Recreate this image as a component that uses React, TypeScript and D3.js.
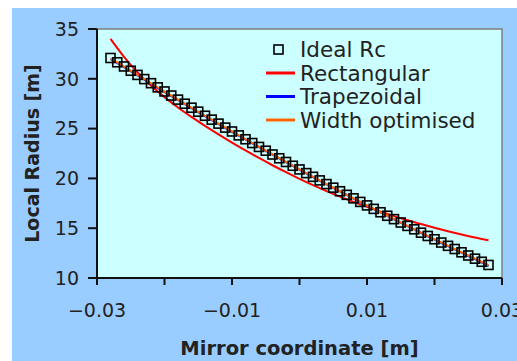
import React from "react";
import * as d3 from "d3";

const WIDTH = 517;
const HEIGHT = 361;

// mirror coordinate [m], step 0.001 from -0.028 to 0.028
const idealX = [
  -0.028, -0.027, -0.026, -0.025, -0.024, -0.023, -0.022, -0.021, -0.02, -0.019,
  -0.018, -0.017, -0.016, -0.015, -0.014, -0.013, -0.012, -0.011, -0.01, -0.009,
  -0.008, -0.007, -0.006, -0.005, -0.004, -0.003, -0.002, -0.001, 0, 0.001,
  0.002, 0.003, 0.004, 0.005, 0.006, 0.007, 0.008, 0.009, 0.01, 0.011,
  0.012, 0.013, 0.014, 0.015, 0.016, 0.017, 0.018, 0.019, 0.02, 0.021,
  0.022, 0.023, 0.024, 0.025, 0.026, 0.027, 0.028,
];
const idealRc = [
  32.09, 31.66, 31.24, 30.81, 30.39, 29.97, 29.56, 29.14, 28.73, 28.32,
  27.91, 27.5, 27.1, 26.7, 26.29, 25.9, 25.5, 25.1, 24.71, 24.32,
  23.93, 23.55, 23.16, 22.78, 22.4, 22.02, 21.65, 21.27, 20.9, 20.53,
  20.16, 19.8, 19.43, 19.07, 18.71, 18.35, 18.0, 17.64, 17.29, 16.94,
  16.6, 16.25, 15.91, 15.57, 15.23, 14.89, 14.55, 14.22, 13.89, 13.56,
  13.23, 12.91, 12.58, 12.26, 11.94, 11.63, 11.31,
];

const profileX = [
  -0.028, -0.026, -0.024, -0.022, -0.02, -0.018, -0.016, -0.014, -0.012, -0.01,
  -0.008, -0.006, -0.004, -0.002, 0, 0.002, 0.004, 0.006, 0.008, 0.01,
  0.012, 0.014, 0.016, 0.018, 0.02, 0.022, 0.024, 0.026, 0.028,
];
const rectangular = [
  34.0, 32.2, 30.64, 29.32, 28.16, 27.12, 26.17, 25.27, 24.42, 23.6,
  22.81, 22.05, 21.32, 20.62, 19.95, 19.32, 18.73, 18.17, 17.64, 17.14,
  16.66, 16.21, 15.8, 15.42, 15.05, 14.7, 14.37, 14.06, 13.78,
];
const trapezoidal = [
  31.98, 31.17, 30.34, 29.5, 28.68, 27.87, 27.06, 26.26, 25.47, 24.68,
  23.91, 23.14, 22.38, 21.63, 20.88, 20.14, 19.41, 18.69, 17.98, 17.27,
  16.58, 15.89, 15.2, 14.53, 13.86, 13.2, 12.54, 11.89, 11.2,
];
const widthOptimised = [
  32.05, 31.22, 30.38, 29.55, 28.72, 27.9, 27.09, 26.29, 25.5, 24.71,
  23.93, 23.16, 22.4, 21.65, 20.9, 20.16, 19.43, 18.71, 18.0, 17.29,
  16.6, 15.91, 15.23, 14.55, 13.89, 13.23, 12.58, 11.94, 11.28,
];

const xTicks = [-0.03, -0.02, -0.01, 0, 0.01, 0.02, 0.03];
const xTickLabels = ["−0.03", "", "−0.01", "", "0.01", "", "0.03"];
const yTicks = [10, 15, 20, 25, 30, 35];

const legendItems = [
  { label: "Ideal Rc", kind: "square", color: "#000" },
  { label: "Rectangular", kind: "line", color: "#ff0000" },
  { label: "Trapezoidal", kind: "line", color: "#0000ff" },
  { label: "Width optimised", kind: "line", color: "#ff6600" },
];

const FONT = "DejaVu Sans, Verdana, sans-serif";

export default function App() {
  const left = 97;
  const right = 502;
  const top = 29;
  const bottom = 278;

  const x = d3.scaleLinear().domain([-0.03, 0.03]).range([left, right]);
  const y = d3.scaleLinear().domain([10, 35]).range([bottom, top]);

  const line = (xs: number[], ys: number[]) =>
    d3
      .line<number>()
      .x((_, i) => x(xs[i]))
      .y((d) => y(d))
      .curve(d3.curveMonotoneX)(ys) || "";

  return (
    <svg
      width={WIDTH}
      height={HEIGHT}
      style={{ position: "absolute", left: 0, top: 0, display: "block" }}
      fontFamily={FONT}
    >
      <rect x={0} y={0} width={WIDTH} height={HEIGHT} fill="#fff" />
      <rect x={12} y={8} width={WIDTH - 12} height={HEIGHT - 8} fill="#99ccff" />
      <rect x={left} y={top} width={right - left} height={bottom - top} fill="#ccffff" />
      {/* grey frame top/right */}
      <path
        d={`M${left},${top}H${right}V${bottom}`}
        fill="none"
        stroke="#7f7f7f"
        strokeWidth={1.5}
      />

      <clipPath id="plot">
        <rect x={left} y={top} width={right - left} height={bottom - top} />
      </clipPath>
      <g clipPath="url(#plot)">
        <path d={line(profileX, rectangular)} fill="none" stroke="#ff0000" strokeWidth={2} />
        <path d={line(profileX, trapezoidal)} fill="none" stroke="#0000ff" strokeWidth={2} />
        <path d={line(profileX, widthOptimised)} fill="none" stroke="#ff6600" strokeWidth={2} />
        {idealRc.map((v, i) => (
          <rect
            key={i}
            x={x(idealX[i]) - 4.5}
            y={y(v) - 4.5}
            width={9}
            height={9}
            fill="none"
            stroke="#000"
            strokeWidth={1.6}
          />
        ))}
      </g>

      {/* axes */}
      <line x1={left} x2={left} y1={top} y2={bottom + 1} stroke="#111" strokeWidth={2} />
      <line x1={left - 1} x2={right} y1={bottom} y2={bottom} stroke="#111" strokeWidth={2} />
      {yTicks.map((t) => (
        <g key={t}>
          <line x1={left - 9} x2={left} y1={y(t)} y2={y(t)} stroke="#111" strokeWidth={2} />
          <text
            x={left - 18}
            y={y(t)}
            dy="0.36em"
            textAnchor="end"
            fontSize={19}
            fill="#222"
          >
            {t}
          </text>
        </g>
      ))}
      {xTicks.map((t, i) => (
        <g key={t}>
          <line x1={x(t)} x2={x(t)} y1={bottom} y2={bottom + 7} stroke="#111" strokeWidth={2} />
          {xTickLabels[i] && (
            <text x={x(t)} y={317} textAnchor="middle" fontSize={19} fill="#222">
              {xTickLabels[i]}
            </text>
          )}
        </g>
      ))}

      <text
        x={(left + right) / 2}
        y={355}
        textAnchor="middle"
        fontSize={19.5}
        fontWeight="bold"
        fill="#222"
      >
        Mirror coordinate [m]
      </text>
      <text
        transform={`translate(39,${(top + bottom) / 2}) rotate(-90)`}
        textAnchor="middle"
        fontSize={19}
        fontWeight="bold"
        fill="#222"
      >
        Local Radius [m]
      </text>

      {/* legend */}
      {legendItems.map((d, i) => {
        const base = 57 + i * 23.5;
        const cy = base - 7.5;
        return (
          <g key={d.label}>
            {d.kind === "square" ? (
              <rect
                x={274}
                y={cy - 4.5}
                width={9}
                height={9}
                fill="none"
                stroke="#000"
                strokeWidth={1.6}
              />
            ) : (
              <line x1={266} x2={295} y1={cy} y2={cy} stroke={d.color} strokeWidth={3} />
            )}
            <text x={300} y={base} fontSize={21.5} fill="#222">
              {d.label}
            </text>
          </g>
        );
      })}
    </svg>
  );
}
